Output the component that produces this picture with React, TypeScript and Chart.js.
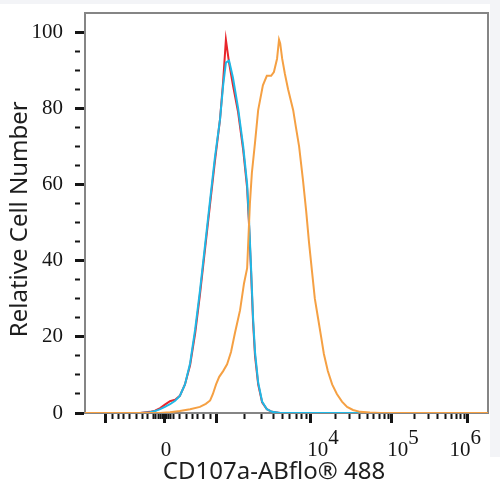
import React, { useEffect, useRef } from "react";
import { Chart, registerables } from "chart.js";

Chart.register(...registerables);

// Histogram data: x in display channels (0-1024 over the biexponential axis), y in relative cell number
const CHANNELS_CONTROL = [0, 140, 165, 178, 191, 203, 216, 229, 241, 254, 267, 280, 292, 305, 318, 330, 343, 351, 358, 366, 376, 389, 402, 412, 417, 422, 427, 432, 440, 450, 462, 475, 496, 521, 1024];
const RED_VALUES = [0, 0, 0.3, 0.6, 1.3, 2.2, 3.1, 3.5, 4.5, 7.5, 12.5, 21, 31, 43, 55, 66, 77, 87, 98, 92, 86, 79, 69, 59, 49, 37, 24, 15, 7.5, 2.8, 1, 0.3, 0, 0, 0];
const BLUE_VALUES = [0, 0, 0.2, 0.5, 1, 1.6, 2.3, 3.2, 4.5, 7.5, 13, 22, 32, 44, 56, 67, 77, 86, 92, 92.5, 88, 80, 70, 60, 50, 38, 25, 16, 8, 3, 1, 0.3, 0, 0, 0];

const CHANNELS_STAINED = [0, 191, 216, 241, 267, 292, 307, 318, 325, 333, 341, 351, 361, 371, 381, 394, 404, 412, 419, 424, 432, 440, 452, 462, 473, 480, 488, 493, 496, 501, 508, 516, 529, 536, 544, 554, 562, 569, 577, 584, 592, 600, 607, 617, 628, 640, 653, 666, 681, 699, 724, 750, 1024];
const ORANGE_VALUES = [0, 0, 0.2, 0.5, 1, 1.6, 2.4, 3.3, 5, 7.5, 9.5, 11, 12.8, 16, 21, 27, 34, 38, 55, 63, 71, 79.5, 86, 88.5, 88.5, 89.5, 93, 98, 97, 93, 89, 85, 79.5, 75, 70, 61, 53, 45, 37, 30, 25, 20, 15.5, 11, 7.5, 5, 3, 1.6, 0.8, 0.3, 0.1, 0, 0];

// Axis ticks (channel positions of -10^3, 0, 10^3, 10^4, 10^5, 10^6)
const MAJOR_TICK_CHANNELS = [53, 203, 333, 574, 780, 973];
const LINEAR_MINOR_CHANNELS = [69, 84, 99, 114, 130, 145, 160, 173, 180, 186, 191, 196, 208, 213, 218, 226, 241, 257, 272, 287, 302, 318];
const X_LABEL_CHANNELS = [206, 605, 808, 966];
const X_LABELS: string[][] = [
  ["", "0"],
  ["\u2007\u20074", "10\u2007"],
  ["\u2007\u20075", "10\u2007"],
  ["\u2007\u20076", "10\u2007"],
];
const Y_TICK_VALUES = [0, 5, 10, 15, 20, 25, 30, 35, 40, 45, 50, 55, 60, 65, 70, 75, 80, 85, 90, 95, 100];
const Y_LABEL_STEP = 20;

const X_TITLE = "CD107a-ABflo\u00AE 488";
const Y_TITLE = "Relative Cell Number";

type TickSpec = { value: number; kind: "major" | "minor" | "label"; label: string[] | string };

function buildXTicks(): TickSpec[] {
  const specs: TickSpec[] = [];
  MAJOR_TICK_CHANNELS.forEach((v) => specs.push({ value: v, kind: "major", label: "" }));
  LINEAR_MINOR_CHANNELS.forEach((v) => specs.push({ value: v, kind: "minor", label: "" }));
  for (let d = 2; d < MAJOR_TICK_CHANNELS.length - 1; d++) {
    const a = MAJOR_TICK_CHANNELS[d];
    const b = MAJOR_TICK_CHANNELS[d + 1];
    for (let m = 2; m <= 9; m++) {
      specs.push({ value: a + Math.log10(m) * (b - a), kind: "minor", label: "" });
    }
  }
  X_LABEL_CHANNELS.forEach((v, i) => specs.push({ value: v, kind: "label", label: X_LABELS[i] }));
  specs.sort((p, q) => p.value - q.value);
  return specs;
}

const X_TICKS = buildXTicks();

const TICK_COLOR = "#151515";
const FRAME_COLOR = "#858585";
const SERIF = "'Liberation Serif', 'DejaVu Serif', serif";
const SANS = "'Noto Sans', 'Open Sans', sans-serif";

export default function App() {
  const canvasRef = useRef<HTMLCanvasElement | null>(null);

  useEffect(() => {
    if (!canvasRef.current) return;
    const chart = new Chart(canvasRef.current, {
      type: "line",
      data: {
        datasets: [
          {
            label: "Stained",
            data: CHANNELS_STAINED.map((x, i) => ({ x, y: ORANGE_VALUES[i] })),
            borderColor: "#f5a043",
            borderWidth: 2,
            pointRadius: 0,
            tension: 0,
            order: 0,
          },
          {
            label: "Control 2",
            data: CHANNELS_CONTROL.map((x, i) => ({ x, y: BLUE_VALUES[i] })),
            borderColor: "#1fb8e6",
            borderWidth: 2,
            pointRadius: 0,
            tension: 0,
            order: 1,
          },
          {
            label: "Control 1",
            data: CHANNELS_CONTROL.map((x, i) => ({ x, y: RED_VALUES[i] })),
            borderColor: "#e8252b",
            borderWidth: 2,
            pointRadius: 0,
            tension: 0,
            order: 2,
          },
        ],
      },
      options: {
        animation: false,
        responsive: false,
        events: [],
        layout: { padding: { top: 13, right: 12, left: 0, bottom: 0 } },
        plugins: { legend: { display: false }, tooltip: { enabled: false } },
        scales: {
          x: {
            type: "linear",
            position: "bottom",
            min: 0,
            max: 1024,
            afterFit: (scale: any) => {
              scale.height = 87;
              scale.paddingLeft = 0;
              scale.paddingRight = 0;
            },
            afterBuildTicks: (scale: any) => {
              scale.ticks = X_TICKS.map((t) => ({ value: t.value }));
            },
            border: { display: true, color: FRAME_COLOR, width: 2 },
            grid: {
              display: true,
              drawOnChartArea: false,
              drawTicks: true,
              tickLength: 10,
              tickColor: (ctx: any) => (X_TICKS[ctx.index]?.kind === "label" ? "rgba(0,0,0,0)" : TICK_COLOR),
              tickWidth: (ctx: any) => (X_TICKS[ctx.index]?.kind === "major" ? 3 : 2),
              tickBorderDash: (ctx: any) => (X_TICKS[ctx.index]?.kind === "minor" ? [5, 100] : []),
            },
            ticks: {
              autoSkip: false,
              maxRotation: 0,
              minRotation: 0,
              padding: 10,
              color: TICK_COLOR,
              font: { family: SERIF, size: 21, lineHeight: 0.55 },
              callback: (_v: any, index: number) => X_TICKS[index]?.label ?? "",
            },
            title: {
              display: true,
              text: X_TITLE + "\u00A0\u00A0\u00A0\u00A0",
              color: "#1e1e1e",
              font: { family: SANS, size: 24 },
              padding: { top: 0, bottom: 13 },
            },
          },
          xTop: {
            type: "linear",
            position: "top",
            min: 0,
            max: 1,
            afterFit: (scale: any) => {
              scale.height = 0;
            },
            border: { display: true, color: FRAME_COLOR, width: 2 },
            grid: { display: false },
            ticks: { display: false },
          },
          y: {
            type: "linear",
            position: "left",
            min: 0,
            max: 105,
            afterFit: (scale: any) => {
              scale.width = 85;
              scale.paddingTop = 0;
              scale.paddingBottom = 0;
            },
            afterBuildTicks: (scale: any) => {
              scale.ticks = Y_TICK_VALUES.map((v) => ({ value: v }));
            },
            border: { display: true, color: FRAME_COLOR, width: 2 },
            grid: {
              display: true,
              drawOnChartArea: false,
              drawTicks: true,
              tickLength: 10,
              tickColor: TICK_COLOR,
              tickWidth: (ctx: any) => (Y_TICK_VALUES[ctx.index] % Y_LABEL_STEP === 0 ? 3 : 2),
              tickBorderDash: (ctx: any) => (Y_TICK_VALUES[ctx.index] % Y_LABEL_STEP === 0 ? [] : [5, 100]),
            },
            ticks: {
              autoSkip: false,
              padding: 12,
              color: TICK_COLOR,
              font: { family: SERIF, size: 21 },
              callback: (v: any) => (Number(v) % Y_LABEL_STEP === 0 ? String(v) : ""),
            },
            title: {
              display: true,
              text: Y_TITLE + "\u00A0\u00A0",
              color: "#1e1e1e",
              font: { family: SANS, size: 24 },
              padding: { top: 6, bottom: 0 },
            },
          },
          yRight: {
            type: "linear",
            position: "right",
            min: 0,
            max: 1,
            afterFit: (scale: any) => {
              scale.width = 0;
            },
            border: { display: true, color: FRAME_COLOR, width: 2 },
            grid: { display: false },
            ticks: { display: false },
          },
        },
      } as any,
    });
    return () => chart.destroy();
  }, []);

  const gray = "#f3f4f7";
  return (
    <div style={{ position: "absolute", left: 0, top: 0, width: 500, height: 500, background: "#ffffff", overflow: "hidden" }}>
      <div style={{ position: "absolute", left: 0, top: 0, width: 500, height: 4, background: gray }} />
      <div style={{ position: "absolute", left: 490, top: 0, width: 10, height: 457, background: gray }} />
      <canvas ref={canvasRef} width={500} height={500} style={{ position: "absolute", left: 0, top: 0 }} />
    </div>
  );
}
